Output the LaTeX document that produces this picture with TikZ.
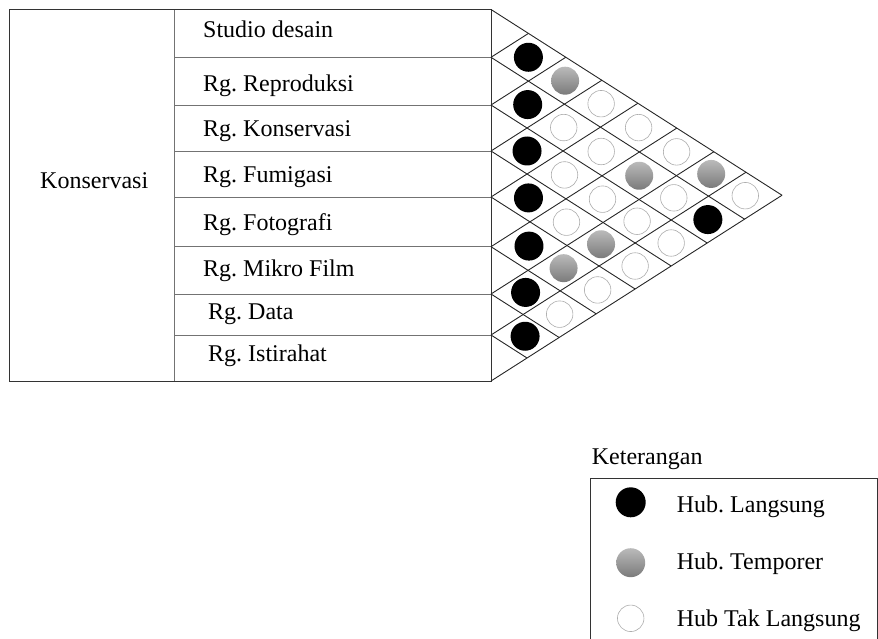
\documentclass[tikz,border=0pt]{standalone}
\usepackage{fontspec}
\setmainfont{Liberation Serif}
\frenchspacing
\begin{document}
\begin{tikzpicture}[x=1pt,y=-1pt,
  lbl/.style={font=\fontsize{24}{28}\selectfont, inner sep=0pt, anchor=base west},
  frameline/.style={line width=0.9pt, draw=black!80},
  tabline/.style={line width=0.9pt, draw=black!55},
  gridline/.style={line width=0.9pt, draw=black!85},
  direct/.style={circle, fill=black, minimum size=29pt, inner sep=0pt},
  temporer/.style={circle, top color=black!27, bottom color=black!52, minimum size=28pt, inner sep=0pt},
  indirect/.style={circle, draw=black!32, line width=0.6pt, fill=white, minimum size=26.5pt, inner sep=0pt},
]
\useasboundingbox (0,0) rectangle (878,639);

% row boundaries of the room list (y, top to bottom)
\def\ys{{9.5,57.3,105,151,197,246.7,294,335,381}}
\def\xo{491}   % left edge of the relation triangle
\def\ts{1.2766} % twice the slope of the diagonals

% --- room table ---
\foreach \i in {1,...,7}{
  \pgfmathsetmacro\yy{\ys[\i]}
  \draw[tabline] (174,\yy) -- (\xo,\yy);
}
\draw[tabline] (174,9.5) -- (174,381);
\draw[frameline] (9,9.5) rectangle (\xo,381);

\node[lbl] (grp) at (40,188.3) {Konservasi};
\node[lbl] (r0) at (203,37.5) {Studio desain};
\node[lbl] (r1) at (203,92) {Rg. Reproduksi};
\node[lbl] (r2) at (203,136.7) {Rg. Konservasi};
\node[lbl] (r3) at (203,182.7) {Rg. Fumigasi};
\node[lbl] (r4) at (203,230) {Rg. Fotografi};
\node[lbl] (r5) at (203,276) {Rg. Mikro Film};
\node[lbl] (r6) at (208,319) {Rg. Data};
\node[lbl] (r7) at (208,361.7) {Rg. Istirahat};

% --- relation triangle: diagonals from every row boundary ---
\foreach \i in {0,...,7}{
  \pgfmathsetmacro\ya{\ys[\i]}
  \pgfmathsetmacro\xe{\xo+(381-\ya)/\ts}
  \pgfmathsetmacro\ye{(\ya+381)/2}
  \draw[gridline] (\xo,\ya) -- (\xe,\ye);
}
\foreach \j in {1,...,8}{
  \pgfmathsetmacro\yb{\ys[\j]}
  \pgfmathsetmacro\xe{\xo+(\yb-9.5)/\ts}
  \pgfmathsetmacro\ye{(\yb+9.5)/2}
  \draw[gridline] (\xo,\yb) -- (\xe,\ye);
}

% --- relation marks: row a / row b / kind ---
\foreach \a/\b/\k in {
  0/1/direct, 0/2/temporer, 0/3/indirect, 0/4/indirect, 0/5/indirect, 0/6/temporer, 0/7/indirect,
  1/2/direct, 1/3/indirect, 1/4/indirect, 1/5/temporer, 1/6/indirect, 1/7/direct,
  2/3/direct, 2/4/indirect, 2/5/indirect, 2/6/indirect, 2/7/indirect,
  3/4/direct, 3/5/indirect, 3/6/temporer, 3/7/indirect,
  4/5/direct, 4/6/temporer, 4/7/indirect,
  5/6/direct, 5/7/indirect,
  6/7/direct}{
  \pgfmathtruncatemacro\an{\a+1}
  \pgfmathtruncatemacro\bn{\b+1}
  \pgfmathsetmacro\yat{\ys[\a]}
  \pgfmathsetmacro\yab{\ys[\an]}
  \pgfmathsetmacro\ybt{\ys[\b]}
  \pgfmathsetmacro\ybb{\ys[\bn]}
  \pgfmathsetmacro\cx{\xo+((\ybt+\ybb)-(\yat+\yab))/(2*\ts)}
  \pgfmathsetmacro\cy{(\yat+\yab+\ybt+\ybb)/4}
  \node[\k] (m\a\b) at (\cx,\cy) {};
}

% --- legend ---
\node[lbl] (legtitle) at (591.7,464) {Keterangan};
\draw[frameline] (590.7,650) -- (590.7,478.3) -- (877,478.3) -- (877,650);
\node[direct, minimum size=30pt] (kd) at (630.7,502.3) {};
\node[temporer, minimum size=29pt] (kt) at (630.7,562.7) {};
\node[indirect] (ki) at (630.7,618.3) {};
\node[lbl] (kdl) at (676.7,512.7) {Hub. Langsung};
\node[lbl] (ktl) at (676.7,569.3) {Hub. Temporer};
\node[lbl] (kil) at (676.7,626.7) {Hub Tak Langsung};
\end{tikzpicture}
\end{document}
